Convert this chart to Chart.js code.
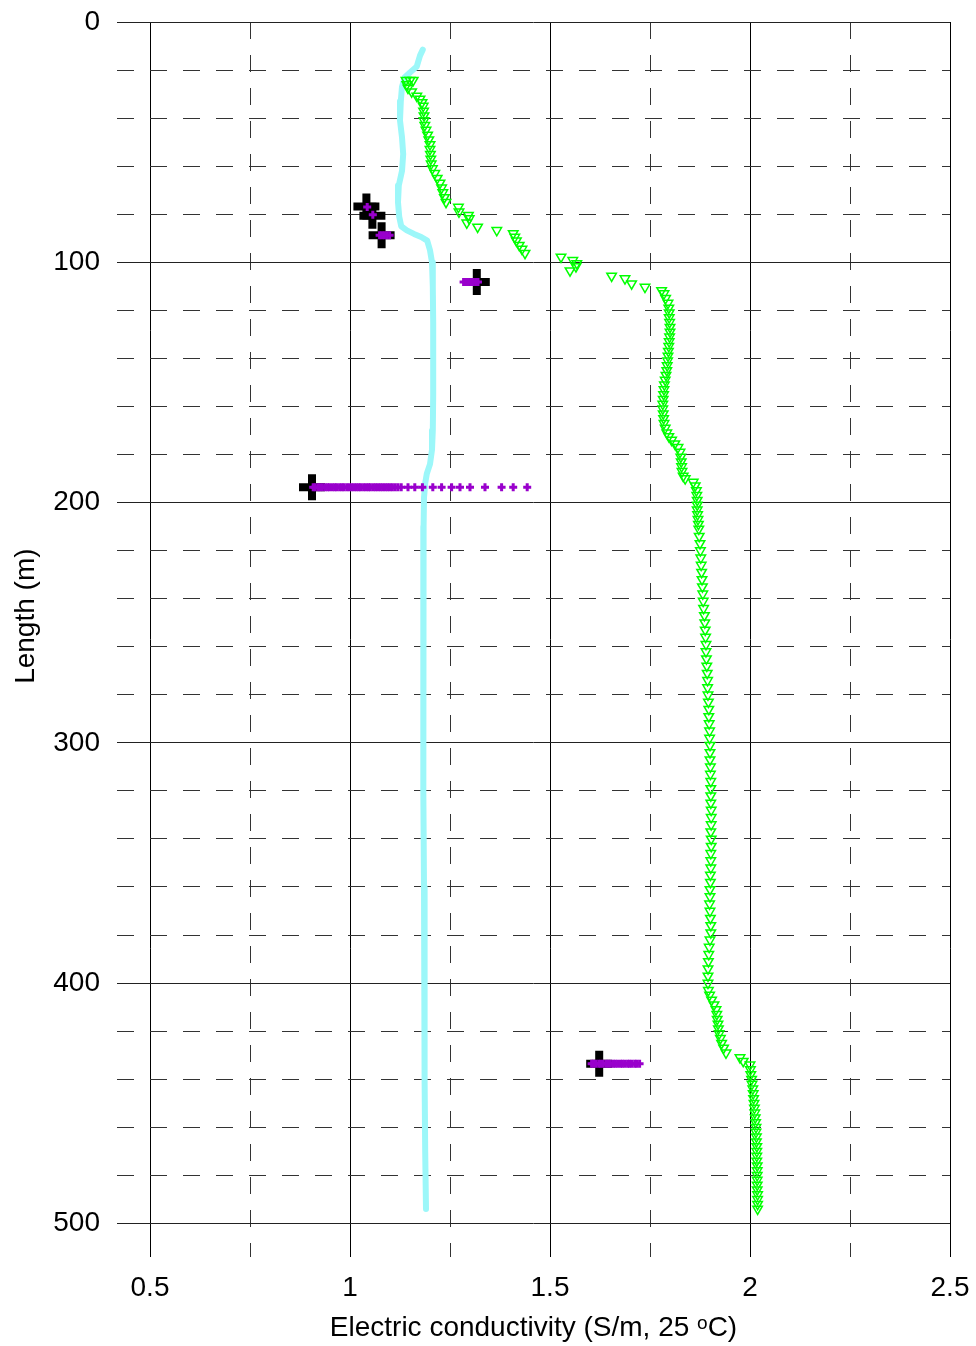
<!DOCTYPE html>
<html>
<head>
<meta charset="utf-8">
<title>Electric conductivity profile</title>
<script src="https://cdn.jsdelivr.net/npm/chart.js@4/dist/chart.umd.min.js"></script>
<style>
  html, body { margin: 0; padding: 0; background: #fff; }
  canvas { display: block; }
</style>
</head>
<body>
<canvas id="ecChart" width="976" height="1346"></canvas>
<script>
// axis ticks (major = labelled, the rest are dashed minor lines)
var xTicks = [0.5, 0.75, 1, 1.25, 1.5, 1.75, 2, 2.25, 2.5];
var yTicks = [0, 20, 40, 60, 80, 100, 120, 140, 160, 180, 200, 220, 240, 260,
              280, 300, 320, 340, 360, 380, 400, 420, 440, 460, 480, 500];

// continuous logger profile (cyan)
var cyanDepth = [11.5, 14, 18.5, 21, 23, 27, 33, 41, 48, 55,
                 62, 68, 75, 81, 85, 86.7, 88.2, 89.5, 91, 95,
                 100, 110, 125, 140, 155, 170, 178, 184, 188, 192,
                 198, 210, 240, 280, 320, 360, 400, 440, 470, 494];
var cyanEC = [1.182, 1.175, 1.167, 1.15, 1.137, 1.13, 1.127, 1.125, 1.13, 1.133,
              1.13, 1.122, 1.12, 1.123, 1.128, 1.142, 1.16, 1.178, 1.193, 1.2,
              1.205, 1.207, 1.208, 1.208, 1.208, 1.207, 1.205, 1.2, 1.192, 1.188,
              1.185, 1.184, 1.183, 1.183, 1.184, 1.185, 1.186, 1.187, 1.188, 1.19];

// second logger profile (green triangles)
var greenDepth = [
  24.2, 24.2, 24.2, 26, 27.5, 29, 30.8, 32, 33.5, 35, 37, 39, 41, 43, 45, 47, 49,
  51, 53, 55, 57, 59, 61, 63, 65, 67, 69, 71, 73, 75,
  77, 79, 80.4, 81.8, 83.6, 85.3, 86.7, 88, 89.5, 91, 92.9, 94.5, 96.2, 97.8, 99.2, 100.5,
  101.8, 103.5, 105.7, 106.8, 108.9, 110.3, 111.7, 113,
  115, 117, 119, 121, 123, 125, 127, 129, 131, 133, 135, 137, 139, 141, 143, 145, 147, 149,
  151, 153, 155, 157, 159, 161, 163, 165, 167, 169, 171, 172.5, 174, 175.5, 177, 179, 181,
  183, 185, 187, 189, 190,
  191.5, 193, 195, 197, 199, 201, 203, 205, 207, 209, 211, 214, 217, 220, 223, 226, 229,
  232, 235, 238, 241, 244, 247, 250, 253, 256, 259, 262, 265, 268, 271, 274, 277, 280,
  283, 286, 289, 292, 295, 298, 301, 304, 307, 310, 313, 316, 319, 322, 325, 328, 331,
  334, 337, 340, 343, 346, 349, 352, 355, 358, 361, 364, 367, 370, 373, 376, 379, 382,
  385, 388, 391, 394, 397, 400, 403, 405, 407, 409, 411, 413, 415, 417, 419, 421, 423,
  425, 427, 429,
  431, 432.5, 434, 436, 438, 440, 442, 444, 446, 448, 450, 452, 454, 456, 458, 460, 462,
  464, 466, 468, 470, 472, 474, 476, 478, 480, 482, 484, 486, 488, 490, 492, 494];
var greenEC = [
  1.14, 1.15, 1.158, 1.142, 1.145, 1.154, 1.167, 1.175, 1.18, 1.183, 1.184, 1.185, 1.185, 1.187, 1.19, 1.194, 1.197,
  1.2, 1.2, 1.201, 1.202, 1.203, 1.206, 1.212, 1.218, 1.225, 1.229, 1.232, 1.236, 1.24,
  1.271, 1.2725, 1.296, 1.298, 1.292, 1.319, 1.367, 1.408, 1.412, 1.416, 1.423, 1.43, 1.4375, 1.5275, 1.557, 1.567,
  1.565, 1.55, 1.654, 1.6875, 1.704, 1.7375, 1.779, 1.785,
  1.789, 1.795, 1.797, 1.798, 1.798, 1.799, 1.8, 1.8, 1.799, 1.798, 1.797, 1.796, 1.795, 1.794, 1.793, 1.792, 1.79, 1.788,
  1.786, 1.785, 1.784, 1.783, 1.782, 1.782, 1.783, 1.784, 1.785, 1.788, 1.792, 1.797, 1.804, 1.812, 1.82, 1.825, 1.827,
  1.828, 1.829, 1.83, 1.833, 1.838,
  1.858, 1.863, 1.866, 1.867, 1.868, 1.868, 1.868, 1.869, 1.87, 1.871, 1.872, 1.873, 1.875, 1.876, 1.877, 1.878, 1.879,
  1.88, 1.881, 1.882, 1.883, 1.884, 1.886, 1.887, 1.888, 1.889, 1.89, 1.89, 1.891, 1.892, 1.893, 1.894, 1.894, 1.895,
  1.896, 1.897, 1.897, 1.898, 1.899, 1.899, 1.9, 1.9, 1.9, 1.901, 1.901, 1.902, 1.902, 1.902, 1.902, 1.903, 1.903,
  1.903, 1.902, 1.903, 1.903, 1.902, 1.902, 1.902, 1.901, 1.901, 1.9, 1.9, 1.899, 1.9, 1.901, 1.902, 1.902, 1.9,
  1.898, 1.897, 1.896, 1.895, 1.895, 1.895, 1.896, 1.899, 1.904, 1.91, 1.915, 1.917, 1.918, 1.92, 1.921, 1.923,
  1.926, 1.929, 1.934, 1.94,
  1.975, 1.983, 2.0, 2.001, 2.002, 2.004, 2.005, 2.007, 2.008, 2.009, 2.01, 2.011, 2.012, 2.013, 2.014, 2.015, 2.015,
  2.016, 2.016, 2.017, 2.017, 2.017, 2.017, 2.018, 2.018, 2.018, 2.018, 2.018, 2.018, 2.019, 2.019, 2.019, 2.019];

// sampled points (purple) grouped by depth
var purpleDepth = [77, 80.2, 88.75, 108.2, 193.6, 433.6];
var purpleEC = [
  [1.043],
  [1.057],
  [1.074, 1.08, 1.086, 1.092, 1.099],
  [1.284, 1.29, 1.296, 1.302, 1.308, 1.314, 1.32],
  [0.908, 0.913, 0.92, 0.925, 0.931, 0.938, 0.944, 0.949, 0.956, 0.962, 0.967, 0.974,
   0.98, 0.985, 0.992, 0.998, 1.004, 1.01, 1.016, 1.022, 1.027, 1.034, 1.04, 1.046,
   1.051, 1.058, 1.064, 1.07, 1.076, 1.082, 1.088, 1.094, 1.1, 1.106, 1.113, 1.12,
   1.128, 1.145, 1.162, 1.181, 1.207, 1.229, 1.254, 1.275, 1.3, 1.3375, 1.379, 1.408, 1.443],
  [1.604, 1.609, 1.615, 1.622, 1.627, 1.633, 1.64, 1.645, 1.651, 1.658, 1.663,
   1.669, 1.676, 1.681, 1.687, 1.694, 1.699, 1.705, 1.712, 1.717, 1.724]
];

// reference values (black crosses)
var crossDepth = [76.8, 80.6, 88.75, 108.2, 193.6, 433.6];
var crossEC = [1.041, 1.056, 1.079, 1.317, 0.905, 1.623];

function pairs(xs, ys) {
  return xs.map(function (x, i) { return { x: x, y: ys[i] }; });
}

var purplePoints = [];
purpleDepth.forEach(function (d, i) {
  purpleEC[i].forEach(function (v) { purplePoints.push({ x: v, y: d }); });
});

function isMajorX(v) { return Math.abs(v * 2 - Math.round(v * 2)) < 1e-6; }
function isMajorY(v) { return v % 100 === 0; }

// keep the plot box fixed: no extra room for overhanging tick labels
function noLabelPadding(s) {
  s.paddingTop = 0;
  s.paddingBottom = 0;
  s.paddingLeft = 0;
  s.paddingRight = 0;
}

Chart.defaults.font.family = "'Liberation Sans', Arial, sans-serif";
Chart.defaults.font.size = 28;
Chart.defaults.color = '#000';

var ecChart = new Chart(document.getElementById('ecChart').getContext('2d'), {
  type: 'scatter',
  data: {
    datasets: [
      {
        label: 'samples',
        data: purplePoints,
        pointStyle: 'cross',
        pointRadius: 4,
        pointBorderWidth: 3,
        pointBorderColor: '#9900CC',
        order: 0
      },
      {
        label: 'reference',
        data: pairs(crossEC, crossDepth),
        pointStyle: 'cross',
        pointRadius: 13,
        pointBorderWidth: 8,
        pointBorderColor: '#000',
        order: 1
      },
      {
        label: 'logger 2',
        data: pairs(greenEC, greenDepth),
        pointStyle: 'triangle',
        pointRotation: 180,
        pointRadius: 5.5,
        pointBorderWidth: 1.5,
        pointBorderColor: '#00FF00',
        pointBackgroundColor: 'rgba(255,255,255,0)',
        order: 2
      },
      {
        label: 'logger 1',
        data: pairs(cyanEC, cyanDepth),
        showLine: true,
        pointRadius: 0,
        borderWidth: 6,
        borderColor: '#9CF7F9',
        borderCapStyle: 'round',
        borderJoinStyle: 'round',
        order: 3
      }
    ]
  },
  options: {
    responsive: false,
    animation: false,
    devicePixelRatio: 1,
    layout: { padding: { top: 22, right: 26, left: 0, bottom: 0 } },
    plugins: { legend: { display: false }, tooltip: { enabled: false } },
    scales: {
      x: {
        type: 'linear',
        position: 'bottom',
        min: 0.4175,
        max: 2.5,
        afterBuildTicks: function (s) { s.ticks = xTicks.map(function (v) { return { value: v }; }); },
        afterFit: function (s) { s.height = 89; noLabelPadding(s); },
        ticks: {
          autoSkip: false,
          maxRotation: 0,
          padding: 14,
          callback: function (v) { return isMajorX(v) ? String(v) : ''; }
        },
        grid: {
          drawTicks: false,
          lineWidth: 1,
          color: function (ctx) { return ctx.tick && isMajorX(ctx.tick.value) ? '#000' : '#333'; }
        },
        border: {
          display: false,
          dash: function (ctx) { return ctx.tick && !isMajorX(ctx.tick.value) ? [17, 16] : []; }
        },
        title: {
          display: true,
          text: 'Electric conductivity (S/m, 25 \u1D52C)',
          padding: { top: 0, bottom: 1 }
        }
      },
      y: {
        type: 'linear',
        position: 'left',
        reverse: true,
        min: 0,
        max: 514,
        afterBuildTicks: function (s) { s.ticks = yTicks.map(function (v) { return { value: v }; }); },
        afterFit: function (s) { s.width = 117; noLabelPadding(s); },
        ticks: {
          autoSkip: false,
          padding: 17,
          callback: function (v) { return isMajorY(v) ? String(v) : ''; }
        },
        grid: {
          drawTicks: false,
          lineWidth: 1,
          color: function (ctx) { return ctx.tick && isMajorY(ctx.tick.value) ? '#222' : '#333'; }
        },
        border: {
          display: false,
          dash: function (ctx) { return ctx.tick && !isMajorY(ctx.tick.value) ? [17, 16] : []; }
        },
        title: {
          display: true,
          // leading spaces lift the centred title a little
          text: '      Length (m)',
          padding: { top: 9, bottom: 0 }
        }
      }
    }
  }
});
</script>
</body>
</html>
